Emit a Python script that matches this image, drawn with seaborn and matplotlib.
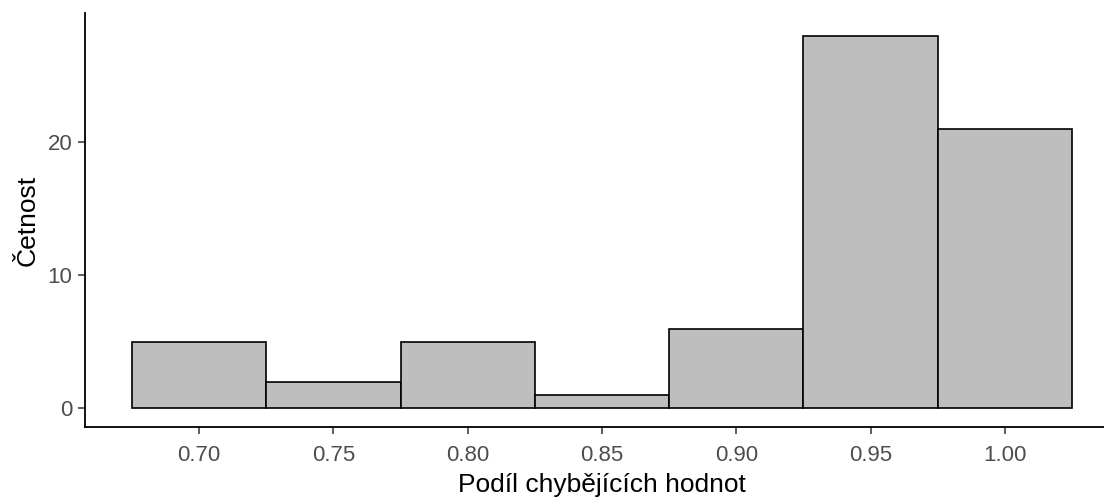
import numpy as np
import pandas as pd
import matplotlib
matplotlib.use("Agg")
import matplotlib.pyplot as plt
import seaborn as sns

# Histogram of the share of missing values (bin centres and counts)
bin_centers = [0.70, 0.75, 0.80, 0.85, 0.90, 0.95, 1.00]
counts = [5, 2, 5, 1, 6, 28, 21]
bin_width = 0.05
x_ticks = [0.70, 0.75, 0.80, 0.85, 0.90, 0.95, 1.00]
x_tick_labels = ["0.70", "0.75", "0.80", "0.85", "0.90", "0.95", "1.00"]
y_ticks = [0, 10, 20]

sns.set_theme(style="ticks")
plt.rcParams["font.family"] = ["Liberation Sans", "DejaVu Sans"]

W, H = 1104, 497
fig = plt.figure(figsize=(W / 100, H / 100), dpi=100)

# panel in pixels: left 85, right 1119 (runs past the figure edge), top 13, bottom 427
ax = fig.add_axes([85 / W, (H - 427) / H, (1119 - 85) / W, (427 - 13) / H])

df = pd.DataFrame({"podil": bin_centers, "n": counts})
lo = bin_centers[0] - bin_width / 2
hi = bin_centers[-1] + bin_width / 2
sns.histplot(data=df, x="podil", weights="n", binwidth=bin_width,
             binrange=(lo, hi), ax=ax,
             color="#BEBEBE", edgecolor="black", linewidth=1.2, alpha=1)

span = hi - lo
ax.set_xlim(lo - 0.05 * span, hi + 0.05 * span)
ax.set_ylim(-1.39, 29.7)

ax.set_xticks(x_ticks)
ax.set_xticklabels(x_tick_labels)
ax.set_yticks(y_ticks)

for s in ["top", "right"]:
    ax.spines[s].set_visible(False)
for s in ["left", "bottom"]:
    ax.spines[s].set_linewidth(1.3)
    ax.spines[s].set_color("black")

ax.tick_params(axis="both", length=5, width=1.1, color="#333333",
               labelsize=16, labelcolor="#4D4D4D")
ax.tick_params(axis="x", pad=8)
ax.tick_params(axis="y", pad=4)

ax.set_xlabel("Podíl chybějících hodnot", fontsize=19, color="black", labelpad=5)
ax.set_ylabel("Četnost", fontsize=19, color="black", labelpad=6)
ax.grid(False)

fig.savefig("out.png", dpi=100)
